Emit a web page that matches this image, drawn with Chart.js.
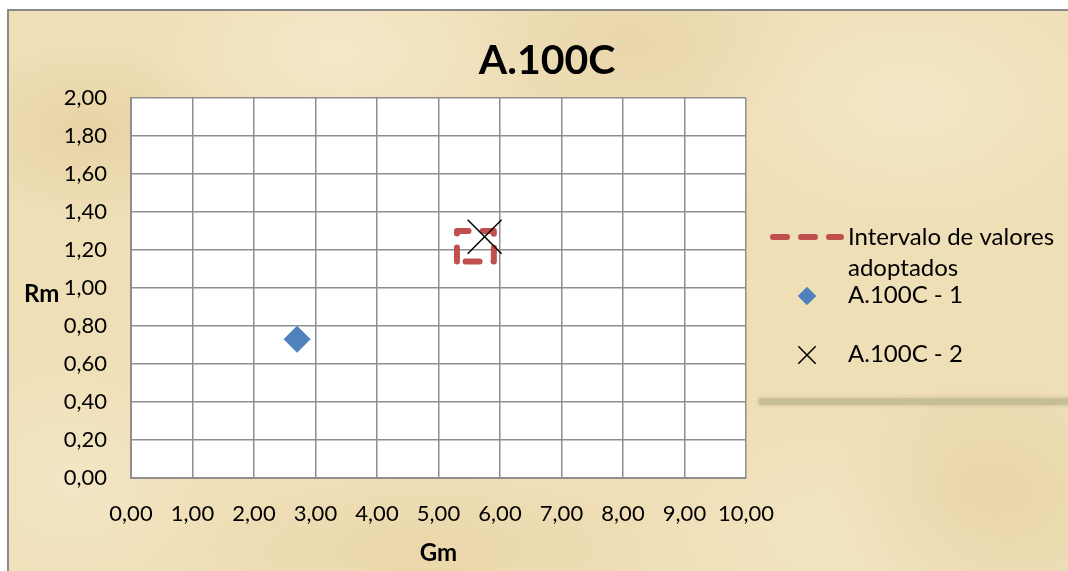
<!DOCTYPE html>
<html>
<head>
<meta charset="utf-8">
<title>A.100C</title>
<script src="https://cdn.jsdelivr.net/npm/chart.js@4.4.0/dist/chart.umd.min.js"></script>
<style>
  html, body { margin: 0; padding: 0; background: #fff; overflow: hidden; }
  #frame {
    position: absolute; left: 7px; top: 9px; width: 1075px; height: 575px;
    box-sizing: border-box; border: 2px solid #8a8a8a;
    background-color: #efdfb7;
    background-image:
      radial-gradient(ellipse 140px 90px at 80px 120px, rgba(225,200,150,0.55), transparent),
      radial-gradient(ellipse 200px 120px at 330px 40px, rgba(248,238,212,0.6), transparent),
      radial-gradient(ellipse 180px 110px at 620px 30px, rgba(228,205,160,0.5), transparent),
      radial-gradient(ellipse 220px 140px at 900px 90px, rgba(248,236,208,0.6), transparent),
      radial-gradient(ellipse 160px 120px at 980px 480px, rgba(226,202,155,0.5), transparent),
      radial-gradient(ellipse 240px 80px at 420px 540px, rgba(230,208,160,0.55), transparent),
      radial-gradient(ellipse 160px 140px at 60px 470px, rgba(247,236,210,0.5), transparent),
      radial-gradient(ellipse 200px 130px at 820px 520px, rgba(246,234,205,0.5), transparent);
  }
  #chart { position: absolute; left: 0; top: 0; }
</style>
</head>
<body>
<div id="frame"></div>
<canvas id="chart" width="1068" height="571"></canvas>
<script>
// series: Gm on x, Rm on y
const intervalGm = [5.30, 5.30, 5.90, 5.90, 5.30];
const intervalRm = [1.14, 1.30, 1.30, 1.14, 1.14];
const sample1Gm = [2.70];
const sample1Rm = [0.73];
const sample2Gm = [5.75];
const sample2Rm = [1.27];

const xTicks = [0, 1, 2, 3, 4, 5, 6, 7, 8, 9, 10];
const yTicks = [0, 0.2, 0.4, 0.6, 0.8, 1.0, 1.2, 1.4, 1.6, 1.8, 2.0];

const chartTitle = 'A.100C';
const xTitle = 'Gm';
const yTitle = 'Rm';
const seriesLabels = [['Intervalo de valores', 'adoptados'], ['A.100C - 1'], ['A.100C - 2']];

const FONT = 'Lato, "Open Sans", sans-serif';

function toPoints(xs, ys) {
  return xs.map((x, i) => ({ x: x, y: ys[i] }));
}

function fmt(v) {
  return v.toFixed(2).replace('.', ',');
}

// white plot area, legend box shadow, title, axis titles and legend
const decor = {
  id: 'decor',
  beforeDraw(chart) {
    const { ctx, chartArea: a } = chart;
    ctx.save();
    ctx.fillStyle = '#ffffff';
    ctx.fillRect(a.left, a.top, a.right - a.left, a.bottom - a.top);

    ctx.shadowColor = 'rgba(150,145,100,0.5)';
    ctx.shadowBlur = 4;
    ctx.fillStyle = 'rgba(196,189,145,0.8)';
    ctx.fillRect(759, 398, 320, 7);
    ctx.restore();
  },
  afterDraw(chart) {
    const { ctx, chartArea: a } = chart;
    const ds = chart.data.datasets;
    ctx.save();
    ctx.fillStyle = '#000';
    ctx.textBaseline = 'middle';

    ctx.font = 'bold 41px ' + FONT;
    ctx.textAlign = 'center';
    ctx.fillText(chartTitle, 547, 61);

    ctx.font = 'bold 24px ' + FONT;
    ctx.fillText(xTitle, (a.left + a.right) / 2, 553);
    ctx.textAlign = 'left';
    ctx.fillText(yTitle, 24, 294);

    // legend
    ctx.font = '24px ' + FONT;
    ctx.save();
    ctx.strokeStyle = ds[0].borderColor;
    ctx.lineWidth = ds[0].borderWidth;
    ctx.lineCap = 'round';
    ctx.setLineDash(ds[0].borderDash);
    ctx.beginPath();
    ctx.moveTo(773, 237);
    ctx.lineTo(841, 237);
    ctx.stroke();
    ctx.restore();
    ctx.fillText(seriesLabels[0][0], 848, 237);
    ctx.fillText(seriesLabels[0][1], 848, 268);

    const marks = [[1, 296, 8.7], [2, 355, 12.3]];
    marks.forEach(([i, y, r]) => {
      const d = ds[i];
      ctx.save();
      ctx.fillStyle = d.backgroundColor;
      ctx.strokeStyle = d.borderColor;
      ctx.lineWidth = d.borderWidth;
      Chart.helpers.drawPoint(ctx, { pointStyle: d.pointStyle, radius: r, rotation: 0, borderWidth: d.borderWidth }, 807, y);
      ctx.restore();
      ctx.fillText(seriesLabels[i][0], 848, y - 1);
    });
    ctx.restore();
  }
};

new Chart(document.getElementById('chart'), {
  type: 'scatter',
  data: {
    datasets: [
      {
        label: seriesLabels[0].join(' '),
        data: toPoints(intervalGm, intervalRm),
        showLine: true,
        borderColor: '#c0504d',
        borderWidth: 6,
        borderDash: [14, 14],
        borderCapStyle: 'round',
        borderJoinStyle: 'round',
        pointRadius: 0,
        fill: false,
        tension: 0,
        order: 1
      },
      {
        label: seriesLabels[1][0],
        data: toPoints(sample1Gm, sample1Rm),
        pointStyle: 'rectRot',
        pointRadius: 13,
        backgroundColor: '#4f81bd',
        borderColor: '#4f81bd',
        borderWidth: 1,
        order: 0
      },
      {
        label: seriesLabels[2][0],
        data: toPoints(sample2Gm, sample2Rm),
        pointStyle: 'crossRot',
        pointRadius: 24,
        backgroundColor: '#000',
        borderColor: '#000',
        borderWidth: 1.5,
        order: 0
      }
    ]
  },
  options: {
    responsive: false,
    animation: false,
    devicePixelRatio: 1,
    events: [],
    layout: { padding: { left: 0, right: 322, top: 98, bottom: 0 } },
    plugins: {
      legend: { display: false },
      title: { display: false },
      tooltip: { enabled: false }
    },
    scales: {
      x: {
        type: 'linear',
        min: 0,
        max: 10,
        afterBuildTicks: s => { s.ticks = xTicks.map(v => ({ value: v })); },
        afterFit: s => { s.height = 93; },
        grid: { color: '#8e8e8e', lineWidth: 1.5, drawTicks: false },
        border: { color: '#8e8e8e', width: 2 },
        ticks: {
          padding: 23,
          color: '#000',
          font: { family: FONT, size: 22 },
          maxRotation: 0,
          autoSkip: false,
          callback: v => fmt(v)
        }
      },
      y: {
        type: 'linear',
        min: 0,
        max: 2,
        afterBuildTicks: s => { s.ticks = yTicks.map(v => ({ value: v })); },
        afterFit: s => { s.width = 131; },
        grid: { color: '#8e8e8e', lineWidth: 1.5, drawTicks: false },
        border: { color: '#8e8e8e', width: 2 },
        ticks: {
          padding: 24,
          color: '#000',
          font: { family: FONT, size: 22 },
          autoSkip: false,
          callback: v => fmt(v)
        }
      }
    }
  },
  plugins: [decor]
});
</script>
</body>
</html>
